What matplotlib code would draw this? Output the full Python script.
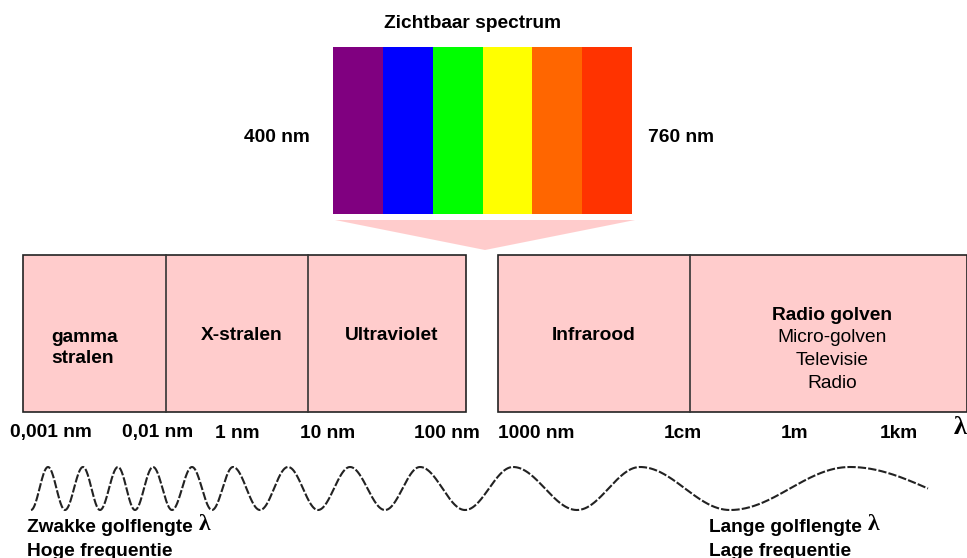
import numpy as np
import matplotlib.pyplot as plt
from matplotlib.patches import Rectangle, Polygon

plt.rcParams['font.family'] = ['Liberation Sans', 'DejaVu Sans']

# --- data ---
spectrum_colors = ['#800080', '#0000FF', '#00FF00', '#FFFF00', '#FF6600', '#FF3300']
left_bands = ['gamma\nstralen', 'X-stralen', 'Ultraviolet']
left_edges = [23, 166, 308, 466]
right_bands = ['Infrarood', 'Radio golven']
right_edges = [498, 690, 967]
radio_sub = ['Micro-golven', 'Televisie', 'Radio']
tick_labels = ['0,001 nm', '0,01 nm', '1 nm', '10 nm', '100 nm',
               '1000 nm', '1cm', '1m', '1km']
tick_x = [51, 158, 237, 328, 447, 536, 683, 795, 899]
# x positions of the wave's troughs / peaks (alternating, trough first)
wave_extrema_x = [31, 48, 65, 83, 100, 118, 135, 153, 172, 192, 212, 233,
                  260, 288, 318, 350, 385, 420, 465, 513, 577, 640, 730, 850, 928]

W, H = 967, 558
fig = plt.figure(figsize=(W / 100, H / 100), dpi=100)
ax = fig.add_axes([0, 0, 1, 1])
ax.set_xlim(0, W)
ax.set_ylim(H, 0)
ax.axis('off')

FS = 13.8
bold = dict(fontweight='bold', fontsize=FS, color='black')
dy = 2  # small vertical nudge for text baseline

# --- visible spectrum ---
sx0, sx1, sy0, sy1 = 333, 632, 47, 214
sw = (sx1 - sx0) / len(spectrum_colors)
for i, c in enumerate(spectrum_colors):
    ax.add_patch(Rectangle((sx0 + i * sw, sy0), sw, sy1 - sy0, facecolor=c,
                           edgecolor='none'))
ax.text(473, 21 + dy, 'Zichtbaar spectrum', ha='center', va='center', **bold)
ax.text(277, 136 + dy, '400 nm', ha='center', va='center', **bold)
ax.text(681, 136 + dy, '760 nm', ha='center', va='center', **bold)

# zoom wedge
ax.add_patch(Polygon([(335, 220), (635, 220), (485, 250)], closed=True,
                     facecolor='#FFCCCC', edgecolor='none'))

# --- bands ---
by0, by1 = 255, 412
def draw_boxes(edges):
    ax.add_patch(Rectangle((edges[0], by0), edges[-1] - edges[0], by1 - by0,
                           facecolor='#FFCCCC', edgecolor='#222222', lw=1.2))
    for e in edges[1:-1]:
        ax.plot([e, e], [by0, by1], color='#333333', lw=1.2)

draw_boxes(left_edges)
draw_boxes(right_edges)

ax.text(51, 346 + dy, left_bands[0], ha='left', va='center', linespacing=1.35, **bold)
for i in (1, 2):
    ax.text((left_edges[i] + left_edges[i + 1]) / 2 + 5, 334 + dy, left_bands[i],
            ha='center', va='center', **bold)
ax.text((right_edges[0] + right_edges[1]) / 2, 334 + dy, right_bands[0],
        ha='center', va='center', **bold)
rc = (right_edges[1] + right_edges[2]) / 2 + 4
ax.text(rc, 313 + dy, right_bands[1], ha='center', va='center', **bold)
for j, s in enumerate(radio_sub):
    ax.text(rc, 336 + dy + j * 22.5, s, ha='center', va='center', fontsize=FS)

for x, lab in zip(tick_x, tick_labels):
    ax.text(x, 431 + dy, lab, ha='center', va='center', **bold)
ax.text(960, 427, 'λ', ha='center', va='center', fontsize=19, fontweight='bold',
        family='Liberation Serif')

# --- wave ---
phase_pts = np.pi * (1 + np.arange(len(wave_extrema_x), dtype=float))
phase_pts[-1] = phase_pts[-2] + np.pi / 2
xs = np.linspace(wave_extrema_x[0], wave_extrema_x[-1], 3000)
ph = np.interp(xs, wave_extrema_x, phase_pts)
ys = 488.5 - 21.5 * np.cos(ph)
ax.plot(xs, ys, color='#222222', lw=1.5, linestyle=(0, (4, 1)))

ax.text(27, 525 + dy, 'Zwakke golflengte', ha='left', va='center', **bold)
ax.text(199, 524, 'λ', ha='left', va='center', fontsize=17, fontweight='bold',
        family='Liberation Serif')
ax.text(27, 549 + dy, 'Hoge frequentie', ha='left', va='center', **bold)
ax.text(709, 525 + dy, 'Lange golflengte', ha='left', va='center', **bold)
ax.text(868, 524, 'λ', ha='left', va='center', fontsize=17, fontweight='bold',
        family='Liberation Serif')
ax.text(709, 549 + dy, 'Lage frequentie', ha='left', va='center', **bold)

fig.savefig('out.png', dpi=100)
